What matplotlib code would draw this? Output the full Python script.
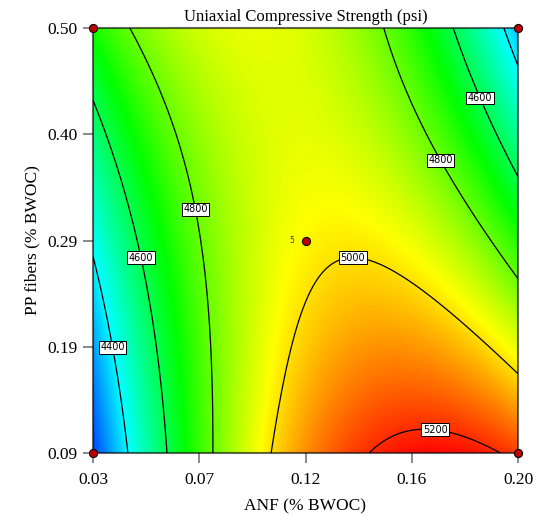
import numpy as np
import matplotlib
matplotlib.use("Agg")
import matplotlib.pyplot as plt
from matplotlib.colors import LinearSegmentedColormap

# ---- data ----
x_range = [0.03, 0.20]          # ANF (% BWOC)
y_range = [0.09, 0.50]          # PP fibers (% BWOC)
x_ticks = [0.03, 0.0725, 0.115, 0.1575, 0.20]
x_tick_labels = ["0.03", "0.07", "0.12", "0.16", "0.20"]
y_ticks = [0.09, 0.1925, 0.295, 0.3975, 0.50]
y_tick_labels = ["0.09", "0.19", "0.29", "0.40", "0.50"]

# quadratic response-surface model in coded units (A = ANF, B = PP)
coef_const = 4973.0
coef_A = 152.4
coef_B = -83.6
coef_AB = -336.7
coef_A2 = -402.0
coef_B2 = 33.0

contour_levels = [4400, 4600, 4800, 5000, 5200]
label_positions = [(0.038, 0.192), (0.050, 0.279), (0.0728, 0.326),
                   (0.134, 0.272), (0.167, 0.116), (0.1687, 0.372),
                   (0.1848, 0.4325)]

design_x = [0.03, 0.20, 0.03, 0.20, 0.115]
design_y = [0.09, 0.09, 0.50, 0.50, 0.295]
center_label = "5"

# ---- surface ----
nx, ny = 300, 300
xs = np.linspace(x_range[0], x_range[1], nx)
ys = np.linspace(y_range[0], y_range[1], ny)
X, Y = np.meshgrid(xs, ys)
xc, yc = np.mean(x_range), np.mean(y_range)
xh, yh = (x_range[1] - x_range[0]) / 2, (y_range[1] - y_range[0]) / 2
A = (X - xc) / xh
B = (Y - yc) / yh
Z = (coef_const + coef_A * A + coef_B * B + coef_AB * A * B
     + coef_A2 * A ** 2 + coef_B2 * B ** 2)

cmap = LinearSegmentedColormap.from_list(
    "de", [(0.0, "#0000ff"), (0.25, "#00ffff"), (0.5, "#00ff00"),
           (0.75, "#ffff00"), (1.0, "#ff0000")])

fig = plt.figure(figsize=(5.38, 5.16), dpi=100)
ax = fig.add_axes([93 / 538, 63 / 516, 425 / 538, 425 / 516])

ax.imshow(Z, extent=[x_range[0], x_range[1], y_range[0], y_range[1]],
          origin="lower", cmap=cmap, vmin=4120, vmax=5250,
          aspect="auto", interpolation="bilinear")
cs = ax.contour(X, Y, Z, levels=contour_levels, colors="black",
                linewidths=0.9)
texts = ax.clabel(cs, fmt="%d", inline=False, fontsize=7,
                  manual=label_positions)
for t in texts:
    t.set_rotation(0)
    t.set_family("DejaVu Sans")
    t.set_bbox(dict(facecolor="white", edgecolor="black", pad=1.0,
                    linewidth=0.7))
    t.set_zorder(5)

ax.scatter(design_x, design_y, s=34, color="#c00000", edgecolor="black",
           linewidth=0.8, zorder=6, clip_on=False)
ax.text(design_x[4] - 0.0045, design_y[4], center_label, fontsize=5.5,
        ha="right", va="center", color="#333333", zorder=6)

ax.set_xlim(x_range)
ax.set_ylim(y_range)
ax.set_xticks(x_ticks)
ax.set_xticklabels(x_tick_labels)
ax.set_yticks(y_ticks)
ax.set_yticklabels(y_tick_labels)
serif = "Liberation Serif"
for lab in ax.get_xticklabels() + ax.get_yticklabels():
    lab.set_family(serif)
    lab.set_fontsize(12.5)
ax.tick_params(axis="x", direction="out", length=7, width=1.2,
               color="#777777", pad=7)
ax.tick_params(axis="y", direction="out", length=7, width=1.2,
               color="#777777", pad=4)
for s in ax.spines.values():
    s.set_color("black")
    s.set_alpha(0.6)
    s.set_linewidth(1.5)

ax.set_title("Uniaxial Compressive Strength (psi)", family=serif,
             fontsize=12, pad=5)
ax.set_xlabel("ANF (% BWOC)", family=serif, fontsize=12.5, labelpad=7)
ax.set_ylabel("PP fibers (% BWOC)", family=serif, fontsize=12.5, labelpad=5)

fig.savefig("out.png", dpi=100)
